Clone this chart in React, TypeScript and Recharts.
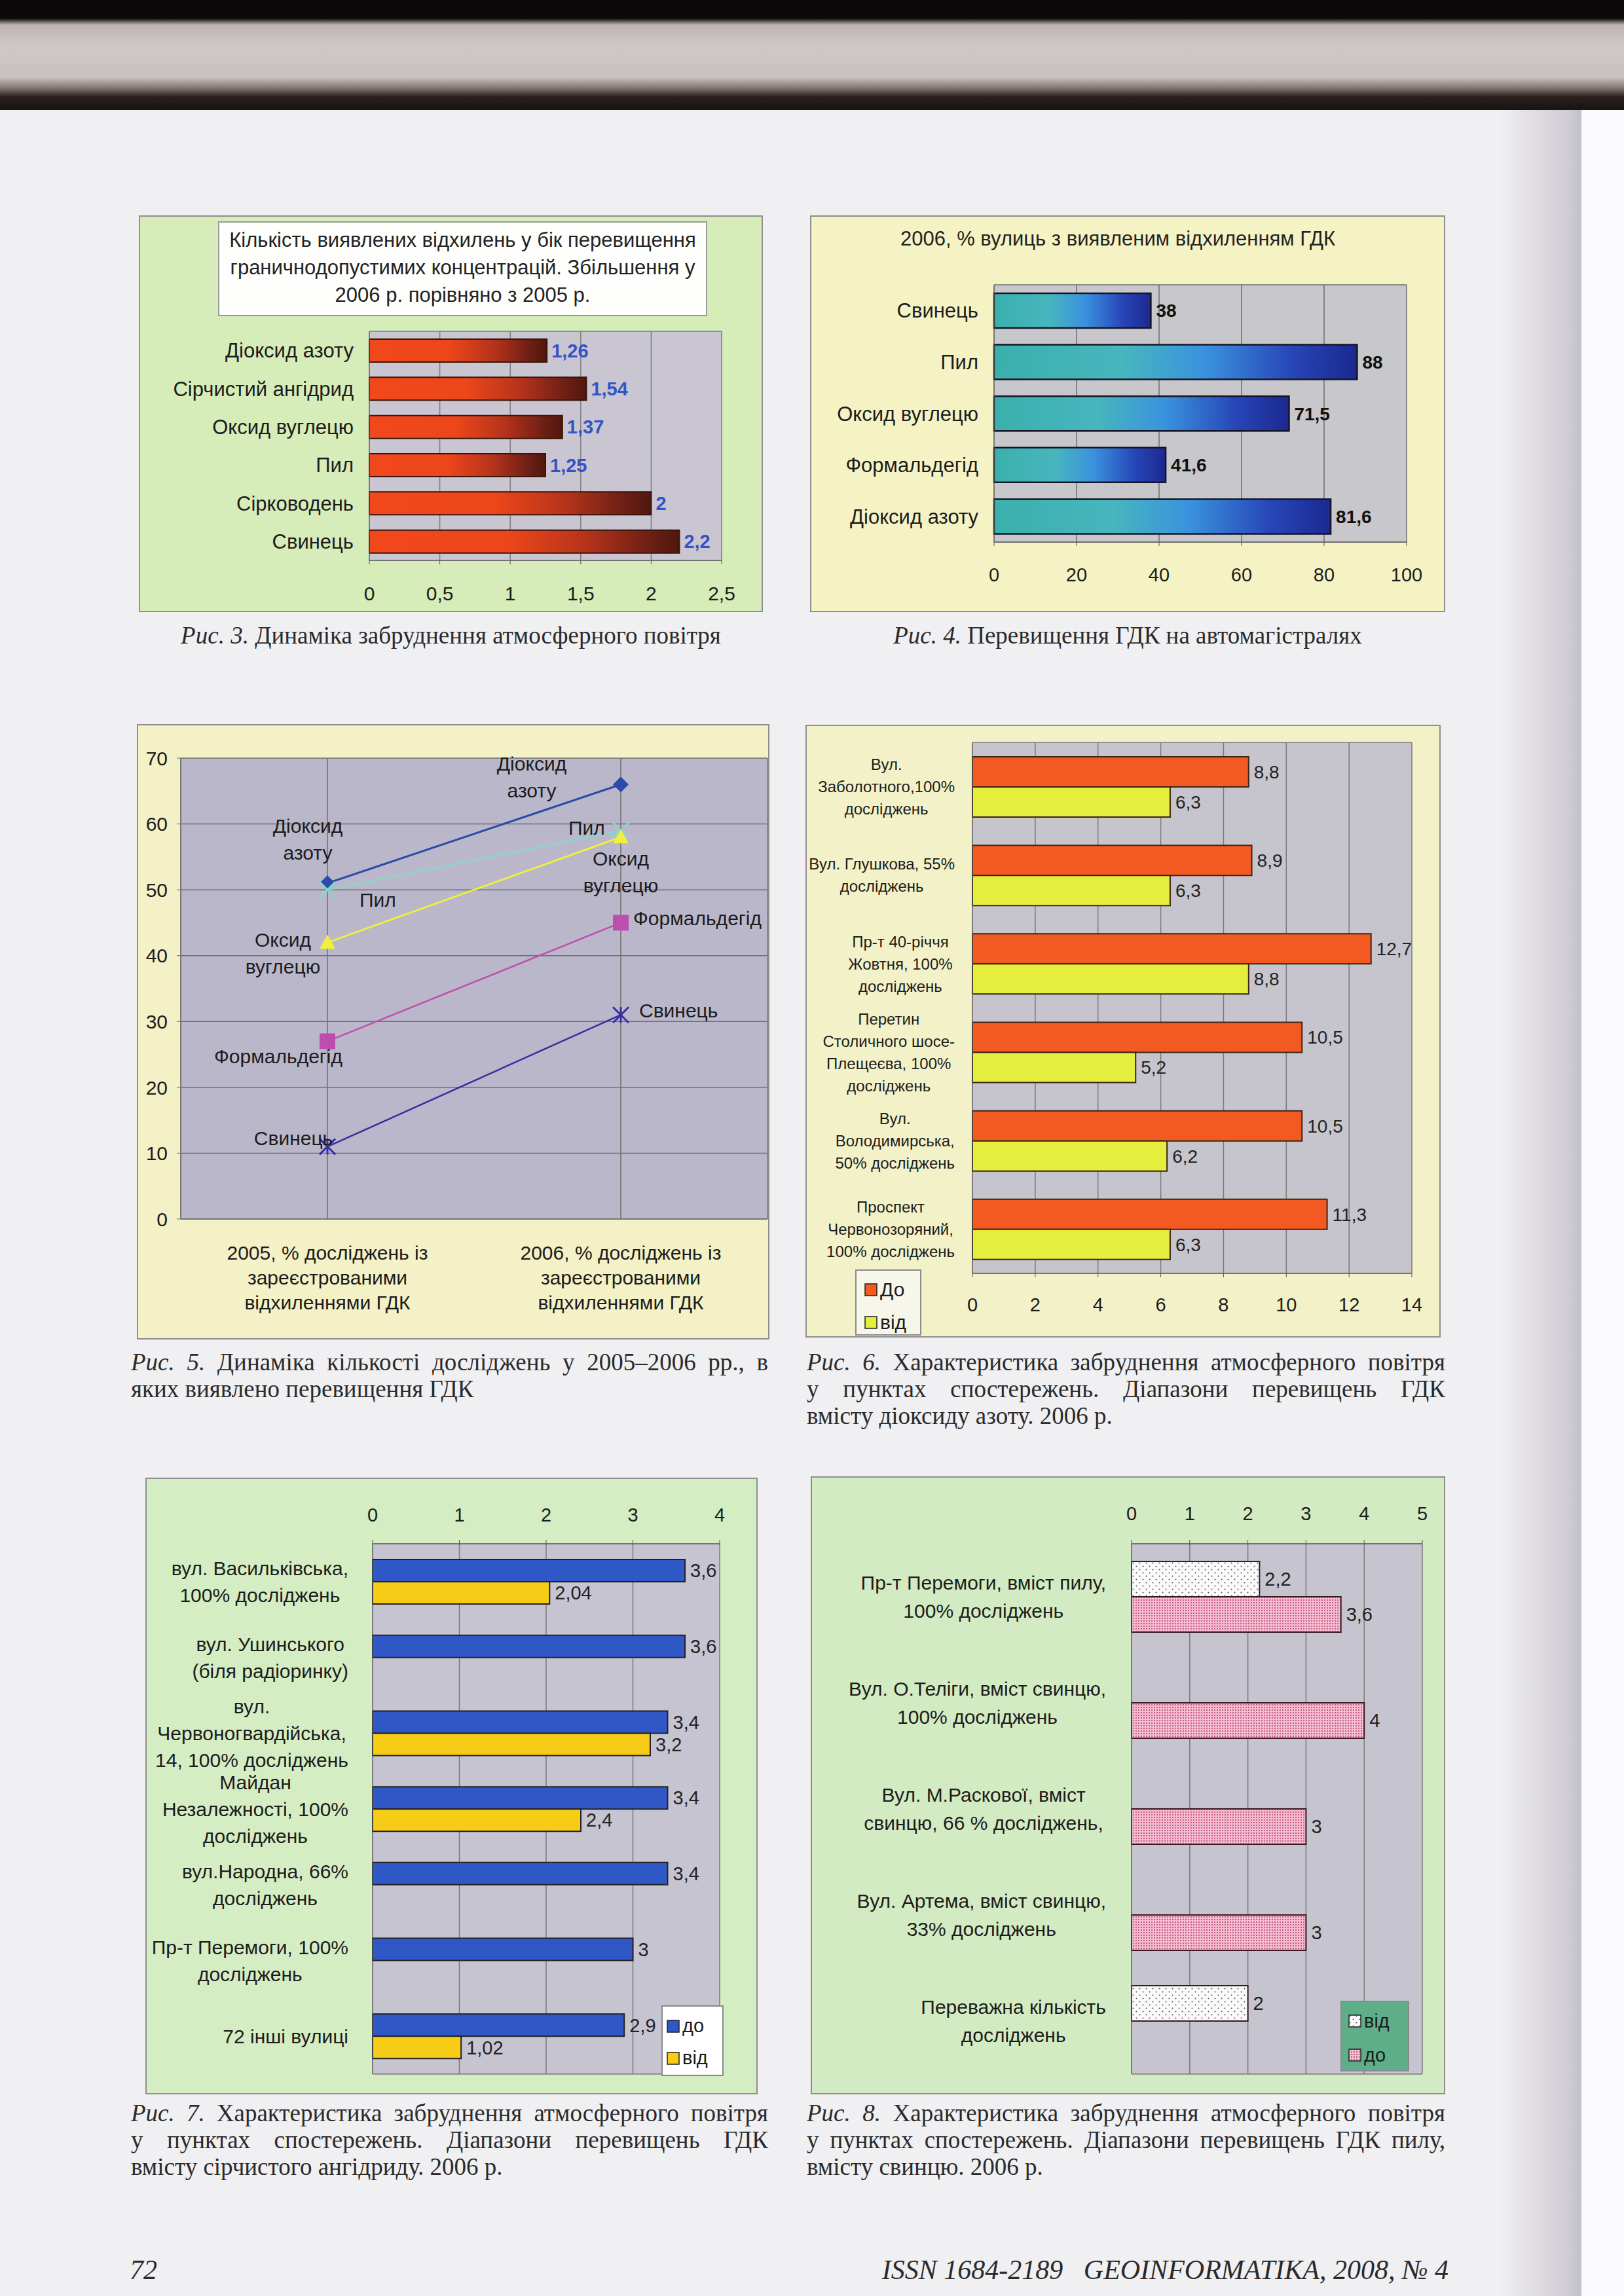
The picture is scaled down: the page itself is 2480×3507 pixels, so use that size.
import React from 'react';
import { BarChart, Bar, LineChart, Line, XAxis, YAxis, CartesianGrid, LabelList, Legend } from 'recharts';

// Рис. 3
const fig3Categories = ['Діоксид азоту', 'Сірчистий ангідрид', 'Оксид вуглецю', 'Пил', 'Сірководень', 'Свинець'];
const fig3Values = [1.26, 1.54, 1.37, 1.25, 2, 2.2];
const fig3Ticks = [0, 0.5, 1, 1.5, 2, 2.5];

// Рис. 4
const fig4Categories = ['Свинець', 'Пил', 'Оксид вуглецю', 'Формальдегід', 'Діоксид азоту'];
const fig4Values = [38, 88, 71.5, 41.6, 81.6];
const fig4Ticks = [0, 20, 40, 60, 80, 100];

// Рис. 5
const fig5Years = [
  '2005, % досліджень із\nзареєстрованими\nвідхиленнями  ГДК',
  '2006, % досліджень із\nзареєстрованими\nвідхиленнями  ГДК',
];
const fig5NO2 = [51, 66];
const fig5Dust = [50, 59];
const fig5CO = [42, 58];
const fig5Formaldehyde = [27, 45];
const fig5Lead = [11, 31];
const fig5Ticks = [0, 10, 20, 30, 40, 50, 60, 70];

// Рис. 6
const fig6Categories = [
  'Вул.\nЗаболотного,100%\nдосліджень',
  'Вул. Глушкова, 55%\nдосліджень',
  'Пр-т  40-річчя\nЖовтня,  100%\nдосліджень',
  'Перетин\nСтоличного шосе-\nПлещеєва, 100%\nдосліджень',
  'Вул.\nВолодимирська,\n50% досліджень',
  'Проспект\nЧервонозоряний,\n100% досліджень',
];
const fig6Before = [8.8, 8.9, 12.7, 10.5, 10.5, 11.3];
const fig6From = [6.3, 6.3, 8.8, 5.2, 6.2, 6.3];
const fig6Ticks = [0, 2, 4, 6, 8, 10, 12, 14];

// Рис. 7
const fig7Categories = [
  'вул. Васильківська,\n100% досліджень',
  'вул. Ушинського\n(біля радіоринку)',
  'вул.\nЧервоногвардійська,\n14, 100% досліджень',
  'Майдан\nНезалежності, 100%\nдосліджень',
  'вул.Народна, 66%\nдосліджень',
  'Пр-т Перемоги, 100%\nдосліджень',
  '72 інші вулиці',
];
const fig7Before = [3.6, 3.6, 3.4, 3.4, 3.4, 3, 2.9];
const fig7From = [2.04, null, 3.2, 2.4, null, null, 1.02];
const fig7Ticks = [0, 1, 2, 3, 4];

// Рис. 8
const fig8Categories = [
  'Пр-т Перемоги, вміст пилу,\n100% досліджень',
  'Вул. О.Теліги, вміст свинцю,\n100% досліджень',
  'Вул. М.Раскової, вміст\nсвинцю,  66 % досліджень,',
  'Вул. Артема, вміст свинцю,\n33% досліджень',
  'Переважна кількість\nдосліджень',
];
const fig8From = [2.2, null, null, null, 2];
const fig8Before = [3.6, 4, 3, 3, null];
const fig8Ticks = [0, 1, 2, 3, 4, 5];

const SANS = '"Liberation Sans", Arial, sans-serif';
const SERIF = '"Liberation Serif", "Times New Roman", serif';
const TEXT = '#1c1c1c';

const fmt = (v: any) => (v === null || v === undefined ? '' : String(v).replace('.', ','));
const frame = (args: any) => (args && args.offset ? [args.offset.top, args.offset.top + args.offset.height] : []);

let measureCtx: CanvasRenderingContext2D | null = null;
function measure(text: string, size: number) {
  if (!measureCtx) measureCtx = document.createElement('canvas').getContext('2d');
  if (!measureCtx) return text.length * size * 0.55;
  measureCtx.font = `${size}px "Liberation Sans"`;
  return measureCtx.measureText(text).width;
}

// multi-line category label, block right-aligned to the axis, lines centred in the block
function CategoryTick(props: any) {
  const { x, y, payload, fontSize, lineHeight, gap } = props;
  const lines = String(payload.value).split('\n');
  const blockW = Math.max(...lines.map((l) => measure(l, fontSize)));
  const cx = x - gap - blockW / 2;
  const top = y - ((lines.length - 1) * lineHeight) / 2;
  return (
    <text textAnchor="middle" fontSize={fontSize} fill={TEXT}>
      {lines.map((l, i) => (
        <tspan key={i} x={cx} y={top + i * lineHeight} dy="0.36em">{l}</tspan>
      ))}
    </text>
  );
}

function YearTick(props: any) {
  const { x, y, payload } = props;
  const lines = String(payload.value).split('\n');
  return (
    <text textAnchor="middle" fontSize={30} fill={TEXT}>
      {lines.map((l, i) => (
        <tspan key={i} x={x} y={y + 62 + i * 38}>{l}</tspan>
      ))}
    </text>
  );
}

function Panel({ left, top, width, height, bg, children }: any) {
  return (
    <div style={{ position: 'absolute', left, top, width, height, background: bg, boxShadow: 'inset 0 0 0 2px #8e8e8e', fontFamily: SANS }}>
      {children}
    </div>
  );
}

function LegendBox({ items, bg, fontSize, rowH, padTop, padL }: any) {
  return (
    <div style={{ width: '100%', height: '100%', boxSizing: 'border-box', background: bg, border: '2px solid #8a8a8a', paddingTop: padTop, fontFamily: SANS }}>
      {items.map((it: any) => (
        <div key={it.name} style={{ display: 'flex', alignItems: 'center', height: rowH, paddingLeft: padL }}>
          <svg width={20} height={20} style={{ marginRight: 4 }}>
            <rect x={1} y={1} width={18} height={18} fill={it.fill} stroke="#222" strokeWidth={1.5} />
          </svg>
          <span style={{ fontSize, color: TEXT, lineHeight: 1 }}>{it.name}</span>
        </div>
      ))}
    </div>
  );
}

// ---------- Рис. 3
function Fig3() {
  const data = fig3Categories.map((name, i) => ({ name, value: fig3Values[i] }));
  return (
    <Panel left={212} top={329} width={953} height={606} bg="#D6ECB9">
      <div style={{ position: 'absolute', left: 121, top: 9, width: 747, height: 145, boxSizing: 'border-box', background: '#FEFEFD', border: '2px solid #9a9a9a', textAlign: 'center', fontSize: 31, lineHeight: '42px', paddingTop: 6, color: '#222' }}>
        Кількість виявлених відхилень у бік перевищення<br />граничнодопустимих концентрацій. Збільшення у<br />2006 р. порівняно з 2005 р.
      </div>
      <BarChart width={953} height={606} data={data} layout="vertical" margin={{ top: 177, right: 63, left: 0, bottom: 0 }}>
        <defs>
          <linearGradient id="fig3grad" x1="0" y1="0" x2="1" y2="0">
            <stop offset="0" stopColor="#F1481C" />
            <stop offset="0.45" stopColor="#EC461A" />
            <stop offset="0.7" stopColor="#B5331B" />
            <stop offset="0.9" stopColor="#6E2015" />
            <stop offset="1" stopColor="#50170E" />
          </linearGradient>
        </defs>
        <CartesianGrid fill="#C9C6D1" stroke="#7d7d7d" strokeWidth={1.5} horizontalCoordinatesGenerator={frame} />
        <XAxis type="number" domain={[0, 2.5]} ticks={fig3Ticks} interval={0} tickFormatter={fmt} height={79} tickSize={6} tickMargin={34} stroke="#555" tick={{ fontSize: 30, fill: TEXT }} />
        <YAxis type="category" dataKey="name" width={352} interval={0} tickLine={false} tickSize={0} tickMargin={0} stroke="#666"
          tick={(p: any) => <CategoryTick {...p} fontSize={31} lineHeight={36} gap={24} />} />
        <Bar dataKey="value" fill="url(#fig3grad)" stroke="#3a130a" strokeWidth={2} barSize={35} isAnimationActive={false}>
          <LabelList dataKey="value" position="right" offset={7} formatter={fmt} fill="#3552C6" fontSize={29} fontWeight="bold" />
        </Bar>
      </BarChart>
    </Panel>
  );
}

// ---------- Рис. 4
function Fig4() {
  const data = fig4Categories.map((name, i) => ({ name, value: fig4Values[i] }));
  return (
    <Panel left={1237} top={329} width={970} height={606} bg="#F5F3C4">
      <div style={{ position: 'absolute', left: 0, top: 16, width: 940, textAlign: 'center', fontSize: 31, lineHeight: '40px', color: '#222' }}>
        2006, % вулиць з виявленим відхиленням ГДК
      </div>
      <BarChart width={970} height={606} data={data} layout="vertical" margin={{ top: 106, right: 59, left: 0, bottom: 0 }}>
        <defs>
          <linearGradient id="fig4grad" x1="0" y1="0" x2="1" y2="0">
            <stop offset="0" stopColor="#3AB0AC" />
            <stop offset="0.35" stopColor="#47B6BE" />
            <stop offset="0.58" stopColor="#3A92DE" />
            <stop offset="0.82" stopColor="#2746B8" />
            <stop offset="1" stopColor="#1C2890" />
          </linearGradient>
        </defs>
        <CartesianGrid fill="#C8C7CB" stroke="#6e6e6e" strokeWidth={1.5} horizontalCoordinatesGenerator={frame} />
        <XAxis type="number" domain={[0, 100]} ticks={fig4Ticks} interval={0} height={107} tickSize={6} tickMargin={33} stroke="#555" tick={{ fontSize: 29, fill: TEXT }} />
        <YAxis type="category" dataKey="name" width={281} interval={0} tickLine={false} tickSize={0} tickMargin={0} stroke="#666"
          tick={(p: any) => <CategoryTick {...p} fontSize={31} lineHeight={36} gap={24} />} />
        <Bar dataKey="value" fill="url(#fig4grad)" stroke="#141426" strokeWidth={2.5} barSize={53} isAnimationActive={false}>
          <LabelList dataKey="value" position="right" offset={8} formatter={fmt} fill="#111" fontSize={28} fontWeight="bold" />
        </Bar>
      </BarChart>
    </Panel>
  );
}

// ---------- Рис. 5
const fig5Series = [
  { key: 'no2', name: 'Діоксид азоту', color: '#2C4AA8', width: 3, marker: 'diamond', wrap: true,
    pos: [{ dx: -30, dy: -77, anchor: 'middle' }, { dx: -136, dy: -21, anchor: 'middle' }] },
  { key: 'dust', name: 'Пил', color: '#84D8CE', width: 2.5, marker: 'cross', wrap: false,
    pos: [{ dx: 49, dy: 26, anchor: 'start' }, { dx: -80, dy: 6, anchor: 'start' }] },
  { key: 'co', name: 'Оксид вуглецю', color: '#EFEF3C', width: 3, marker: 'triangle', wrap: true,
    pos: [{ dx: -68, dy: 6, anchor: 'middle' }, { dx: 0, dy: 43, anchor: 'middle' }] },
  { key: 'form', name: 'Формальдегід', color: '#BE4EAE', width: 2.5, marker: 'square', wrap: false,
    pos: [{ dx: -75, dy: 34, anchor: 'middle' }, { dx: 19, dy: 4, anchor: 'start' }] },
  { key: 'lead', name: 'Свинець', color: '#3A2E9E', width: 2.5, marker: 'star', wrap: false,
    pos: [{ dx: -52, dy: -2, anchor: 'middle' }, { dx: 28, dy: 4, anchor: 'start' }] },
];

function Marker({ cx, cy, shape, color }: any) {
  const s = 12;
  if (cx == null || cy == null) return null;
  if (shape === 'diamond') return <polygon points={`${cx},${cy - s} ${cx + s},${cy} ${cx},${cy + s} ${cx - s},${cy}`} fill={color} />;
  if (shape === 'triangle') return <polygon points={`${cx},${cy - s} ${cx + s},${cy + s * 0.8} ${cx - s},${cy + s * 0.8}`} fill={color} />;
  if (shape === 'square') return <rect x={cx - s} y={cy - s} width={2 * s} height={2 * s} fill={color} />;
  if (shape === 'cross')
    return (
      <g stroke={color} strokeWidth={3}>
        <line x1={cx - s} y1={cy - s} x2={cx + s} y2={cy + s} />
        <line x1={cx - s} y1={cy + s} x2={cx + s} y2={cy - s} />
      </g>
    );
  return (
    <g stroke={color} strokeWidth={3}>
      <line x1={cx - s} y1={cy - s} x2={cx + s} y2={cy + s} />
      <line x1={cx - s} y1={cy + s} x2={cx + s} y2={cy - s} />
      <line x1={cx} y1={cy - s} x2={cx} y2={cy + s} />
    </g>
  );
}

function SeriesLabel(props: any) {
  const { spec, index } = props;
  const vb = props.viewBox || {};
  const px = props.x ?? vb.x;
  const py = props.y ?? vb.y;
  const pos = spec.pos[index];
  if (px == null || py == null || !pos) return null;
  const lines = spec.wrap ? spec.name.split(' ') : [spec.name];
  return (
    <text textAnchor={pos.anchor} fontSize={30} fill={TEXT}>
      {lines.map((l: string, i: number) => (
        <tspan key={i} x={px + pos.dx} y={py + pos.dy + i * 41}>{l}</tspan>
      ))}
    </text>
  );
}

function Fig5() {
  const data = fig5Years.map((name, i) => ({
    name, no2: fig5NO2[i], dust: fig5Dust[i], co: fig5CO[i], form: fig5Formaldehyde[i], lead: fig5Lead[i],
  }));
  return (
    <Panel left={209} top={1106} width={966} height={940} bg="#F3F1C5">
      <LineChart width={966} height={940} data={data} margin={{ top: 52, right: 3, left: 0, bottom: 0 }}>
        <CartesianGrid fill="#BAB7CB" stroke="#6e6e6e" strokeWidth={1.5} />
        <XAxis dataKey="name" scale="point" height={184} padding={{ left: 224, right: 224 }} interval={0} tickLine={false} tickSize={0} tickMargin={0} stroke="#666"
          tick={(p: any) => <YearTick {...p} />} />
        <YAxis domain={[0, 70]} ticks={fig5Ticks} interval={0} width={67} tickSize={6} tickMargin={14} stroke="#666" tick={{ fontSize: 30, fill: TEXT }} />
        {fig5Series.map((s) => (
          <Line key={s.key} dataKey={s.key} name={s.name} stroke={s.color} strokeWidth={s.width} isAnimationActive={false} activeDot={false}
            dot={(p: any) => <Marker key={`${s.key}-${p.index}`} cx={p.cx} cy={p.cy} shape={s.marker} color={s.color} />}>
            <LabelList dataKey={s.key} content={(p: any) => <SeriesLabel {...p} spec={s} />} />
          </Line>
        ))}
      </LineChart>
    </Panel>
  );
}

// ---------- Рис. 6
const fig6Legend = [
  { name: 'До', fill: '#F25A22' },
  { name: 'від', fill: '#E5EE3C' },
];

function Fig6() {
  const data = fig6Categories.map((name, i) => ({ name, before: fig6Before[i], from: fig6From[i] }));
  return (
    <Panel left={1230} top={1107} width={970} height={936} bg="#F2F1C7">
      <BarChart width={970} height={936} data={data} layout="vertical" barGap={0} margin={{ top: 27, right: 44, left: 0, bottom: 0 }}>
        <CartesianGrid fill="#C6C4CC" stroke="#7a7a7a" strokeWidth={1.5} horizontalCoordinatesGenerator={frame} />
        <XAxis type="number" domain={[0, 14]} ticks={fig6Ticks} interval={0} height={98} tickSize={6} tickMargin={31} stroke="#555" tick={{ fontSize: 29, fill: TEXT }} />
        <YAxis type="category" dataKey="name" width={255} interval={0} tickLine={false} tickSize={0} tickMargin={0} stroke="#666"
          tick={(p: any) => <CategoryTick {...p} fontSize={24} lineHeight={34} gap={27} />} />
        <Bar dataKey="before" name="До" fill={fig6Legend[0].fill} stroke="#3c2416" strokeWidth={2} barSize={46} isAnimationActive={false}>
          <LabelList dataKey="before" position="right" offset={8} formatter={fmt} fill="#222" fontSize={28} />
        </Bar>
        <Bar dataKey="from" name="від" fill={fig6Legend[1].fill} stroke="#3c2416" strokeWidth={2} barSize={46} isAnimationActive={false}>
          <LabelList dataKey="from" position="right" offset={8} formatter={fmt} fill="#222" fontSize={28} />
        </Bar>
        <Legend layout="vertical" align="center" verticalAlign="middle" wrapperStyle={{ left: 76, top: 832, width: 101, height: 101 }}
          content={() => <LegendBox items={fig6Legend} bg="#F7F6EA" fontSize={30} rowH={50} padTop={4} padL={12} />} />
      </BarChart>
    </Panel>
  );
}

// ---------- Рис. 7
const fig7Legend = [
  { name: 'до', fill: '#3057C6' },
  { name: 'від', fill: '#F7CC17' },
];

function Fig7() {
  const data = fig7Categories.map((name, i) => ({ name, before: fig7Before[i], from: fig7From[i] }));
  return (
    <Panel left={222} top={2257} width={935} height={942} bg="#D5EDC3">
      <BarChart width={935} height={942} data={data} layout="vertical" barGap={0} margin={{ top: 0, right: 58, left: 0, bottom: 31 }}>
        <CartesianGrid fill="#C7C4D2" stroke="#7a7a7a" strokeWidth={1.5} horizontalCoordinatesGenerator={frame} />
        <XAxis type="number" orientation="top" domain={[0, 4]} ticks={fig7Ticks} interval={0} height={101} tickSize={6} tickMargin={28} stroke="#555" tick={{ fontSize: 29, fill: TEXT }} />
        <YAxis type="category" dataKey="name" width={347} interval={0} tickLine={false} tickSize={0} tickMargin={0} stroke="#666"
          tick={(p: any) => <CategoryTick {...p} fontSize={30} lineHeight={41} gap={37} />} />
        <Bar dataKey="before" name="до" fill={fig7Legend[0].fill} stroke="#222" strokeWidth={2} barSize={34} isAnimationActive={false}>
          <LabelList dataKey="before" position="right" offset={8} formatter={fmt} fill="#222" fontSize={29} />
        </Bar>
        <Bar dataKey="from" name="від" fill={fig7Legend[1].fill} stroke="#222" strokeWidth={2} barSize={34} isAnimationActive={false}>
          <LabelList dataKey="from" position="right" offset={8} formatter={fmt} fill="#222" fontSize={29} />
        </Bar>
        <Legend layout="vertical" align="center" verticalAlign="middle" wrapperStyle={{ left: 788, top: 806, width: 95, height: 108 }}
          content={() => <LegendBox items={fig7Legend} bg="#FFFFFF" fontSize={29} rowH={49} padTop={5} padL={6} />} />
      </BarChart>
    </Panel>
  );
}

// ---------- Рис. 8
const fig8Legend = [
  { name: 'від', fill: 'url(#fig8from)' },
  { name: 'до', fill: 'url(#fig8before)' },
];

function Fig8() {
  const data = fig8Categories.map((name, i) => ({ name, from: fig8From[i], before: fig8Before[i] }));
  return (
    <Panel left={1238} top={2255} width={969} height={944} bg="#D3EBC2">
      <BarChart width={969} height={944} data={data} layout="vertical" barGap={0} margin={{ top: 0, right: 35, left: 0, bottom: 31 }}>
        <defs>
          <pattern id="fig8from" width="10" height="10" patternUnits="userSpaceOnUse">
            <rect width="10" height="10" fill="#FBFAFB" />
            <circle cx="2.5" cy="2.5" r="1" fill="#555" />
            <circle cx="7.5" cy="7.5" r="1" fill="#555" />
          </pattern>
          <pattern id="fig8before" width="4" height="4" patternUnits="userSpaceOnUse">
            <rect width="4" height="4" fill="#F5BCD2" />
            <circle cx="1" cy="1" r="0.9" fill="#B3305C" />
          </pattern>
        </defs>
        <CartesianGrid fill="#C6C4CE" stroke="#7a7a7a" strokeWidth={1.5} horizontalCoordinatesGenerator={frame} />
        <XAxis type="number" orientation="top" domain={[0, 5]} ticks={fig8Ticks} interval={0} height={103} tickSize={6} tickMargin={30} stroke="#555" tick={{ fontSize: 29, fill: TEXT }} />
        <YAxis type="category" dataKey="name" width={490} interval={0} tickLine={false} tickSize={0} tickMargin={0} stroke="#666"
          tick={(p: any) => <CategoryTick {...p} fontSize={30} lineHeight={43} gap={39} />} />
        <Bar dataKey="from" name="від" fill={fig8Legend[0].fill} stroke="#3a1a24" strokeWidth={2} barSize={54} isAnimationActive={false}>
          <LabelList dataKey="from" position="right" offset={8} formatter={fmt} fill="#222" fontSize={29} />
        </Bar>
        <Bar dataKey="before" name="до" fill={fig8Legend[1].fill} stroke="#3a1a24" strokeWidth={2} barSize={54} isAnimationActive={false}>
          <LabelList dataKey="before" position="right" offset={8} formatter={fmt} fill="#222" fontSize={29} />
        </Bar>
        <Legend layout="vertical" align="center" verticalAlign="middle" wrapperStyle={{ left: 809, top: 801, width: 105, height: 108 }}
          content={() => <LegendBox items={fig8Legend} bg="#5DAE89" fontSize={29} rowH={52} padTop={3} padL={10} />} />
      </BarChart>
    </Panel>
  );
}

// ---------- captions
function Caption({ left, top, width, lines, center }: any) {
  return (
    <div style={{ position: 'absolute', left, top, width, fontFamily: SERIF, fontSize: 37, lineHeight: '41px', color: '#2a2a2a' }}>
      {lines.map((l: string, i: number) => {
        const last = i === lines.length - 1;
        const m = i === 0 ? l.match(/^(Рис\. \d\.)(.*)$/) : null;
        return (
          <div key={i} style={{ textAlign: center ? 'center' : 'justify', textAlignLast: center ? 'center' : last ? 'left' : 'justify' } as any}>
            {m ? (<><i>{m[1]}</i>{m[2]}</>) : l}
          </div>
        );
      })}
    </div>
  );
}

export default function App() {
  return (
    <div style={{ position: 'absolute', left: 0, top: 0, width: 2480, height: 3507, overflow: 'hidden', background: '#F0EFF2' }}>
      <div style={{ position: 'absolute', left: 0, top: 0, width: 2480, height: 168,
        background: 'linear-gradient(to bottom, #0b0909 0px, #0b0909 28px, #bdb4b4 38px, #cfc8c8 70px, #c9c1c1 118px, #7a6e6a 136px, #2a201d 148px, #1a1412 166px)' }} />
      <div style={{ position: 'absolute', left: 2290, top: 168, width: 125, height: 3339, background: 'linear-gradient(to right, rgba(200,196,206,0) 0%, #CFCBD3 85%, #C3BFC8 100%)' }} />
      <div style={{ position: 'absolute', left: 2415, top: 168, width: 65, height: 3339, background: '#FAFAFC' }} />

      <Fig3 />
      <Fig4 />
      <Fig5 />
      <Fig6 />
      <Fig7 />
      <Fig8 />

      <Caption left={212} top={950} width={953} center lines={['Рис. 3. Динаміка забруднення атмосферного повітря']} />
      <Caption left={1237} top={950} width={970} center lines={['Рис. 4. Перевищення ГДК на автомагістралях']} />
      <Caption left={200} top={2060} width={973} lines={['Рис. 5. Динаміка кількості досліджень у 2005–2006 рр., в', 'яких виявлено перевищення ГДК']} />
      <Caption left={1232} top={2060} width={975} lines={['Рис. 6. Характеристика забруднення атмосферного повітря', 'у пунктах спостережень. Діапазони перевищень ГДК', 'вмісту діоксиду азоту. 2006 р.']} />
      <Caption left={200} top={3207} width={973} lines={['Рис. 7. Характеристика забруднення атмосферного повітря', 'у пунктах спостережень. Діапазони перевищень ГДК', 'вмісту сірчистого ангідриду. 2006 р.']} />
      <Caption left={1232} top={3207} width={975} lines={['Рис. 8. Характеристика забруднення атмосферного повітря', 'у пунктах спостережень. Діапазони перевищень ГДК пилу,', 'вмісту свинцю. 2006 р.']} />

      <div style={{ position: 'absolute', left: 198, top: 3444, fontFamily: SERIF, fontStyle: 'italic', fontSize: 42, lineHeight: '46px', color: '#2a2a2a' }}>72</div>
      <div style={{ position: 'absolute', left: 1150, top: 3444, width: 1062, textAlign: 'right', fontFamily: SERIF, fontStyle: 'italic', fontSize: 42, lineHeight: '46px', color: '#2a2a2a' }}>
        ISSN 1684-2189{'\u00a0\u00a0\u00a0'}GEOINFORMATIKA, 2008, № 4
      </div>
    </div>
  );
}
